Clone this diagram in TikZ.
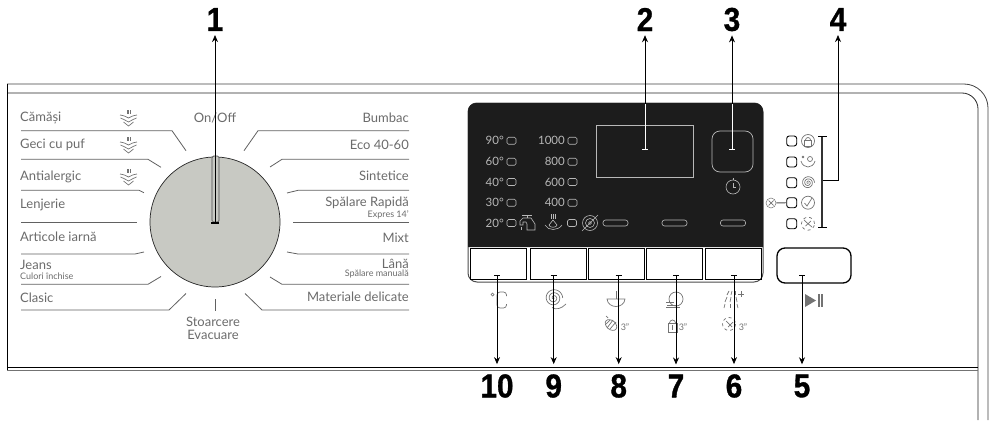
\documentclass[tikz,border=0pt]{standalone}
\usepackage{fontspec}
\setmainfont{Lato}
\newfontfamily\numfont[FakeStretch=0.9, BoldFeatures={FakeBold=1}]{Liberation Sans}
\usetikzlibrary{arrows.meta}
\newcommand{\labcol}{black!58}
\newcommand{\icocol}{black!55}
\definecolor{paneldark}{HTML}{1C1C1C}
\definecolor{dialgray}{HTML}{C8C9C3}
\definecolor{panellight}{HTML}{B8B8B8}
\tikzset{
  lab/.style={inner sep=0, text=\labcol, font=\fontsize{13}{14}\selectfont},
  sublab/.style={inner sep=0, text=\labcol, font=\fontsize{9}{10}\selectfont},
  rule/.style={draw=black!62, line width=0.8},
  ico/.style={draw=\icocol, line width=0.7},
  num/.style={inner sep=0, font=\numfont\bfseries\fontsize{33}{33}\selectfont},
  leader/.style={draw=black, line width=0.8},
  temp/.style={inner sep=0, anchor=east, text=panellight, font=\fontsize{11.5}{12}\selectfont},
  led/.style={draw=panellight, line width=0.6, rounded corners=1.5, inner sep=0, minimum width=9, minimum height=7},
  pill/.style={draw=panellight, line width=0.6, rounded corners=2.5, inner sep=0, minimum width=25, minimum height=6},
  btn/.style={draw=black, line width=0.8, inner sep=0, minimum width=56, minimum height=31},
  sqled/.style={draw=black, line width=0.9, rounded corners=2.5, inner sep=0, minimum width=10, minimum height=10},
  ring/.style={circle, draw=\icocol, line width=0.7, inner sep=0, minimum size=13}
}
\newcommand{\handicon}[1]{
  \begin{scope}[shift={(#1)}]
    \draw[ico] (-1.5,-4) -- (-1.5,-8);
    \draw[ico] (0,-4) -- (0,-8);
    \draw[ico] (1.5,-4) -- (1.5,-8);
    \draw[ico] (-8.5,-3) .. controls (-6,-3) and (-4,-2) .. (0,0) .. controls (4,-2) and (6,-3) .. (8.5,-3);
    \draw[ico] (-8,0) .. controls (-5,1) and (-4,2) .. (0,4) .. controls (4,2) and (5,1) .. (8,0);
    \draw[ico] (-5,4) .. controls (-3,5) and (-2,7) .. (0,8) .. controls (2,7) and (3,5) .. (5,4);
  \end{scope}
}
\newcommand{\spiralicon}[2]{
  \begin{scope}[shift={(#1)}]
    \draw[ico, domain=0:1080, samples=90, smooth, variable=\t] plot ({#2*\t/1080*cos(\t)}, {#2*\t/1080*sin(\t)});
  \end{scope}
}
\begin{document}
\begin{tikzpicture}[x=1pt, y=-1pt]
  \useasboundingbox (0,0) rectangle (992,420);

  \draw[draw=black!75, line width=0.8] (7,84) -- (964,84) arc[start angle=-90, end angle=0, radius=24] -- (988,420);
  \draw[draw=black!85, line width=0.8] (7,93) -- (962,93) arc[start angle=-90, end angle=0, radius=16] -- (978,420);
  \draw[draw=black, line width=0.9] (7,84) -- (7,371);
  \draw[draw=black, line width=0.8] (7,367) -- (978,367);
  \draw[draw=black!55, line width=0.8] (7,370) -- (978,370);

  \node[circle, draw=black!85, fill=dialgray, line width=0.7, inner sep=0, minimum size=130] (dial) at (215,222) {};
  \draw[draw=black!70, fill=dialgray, line width=0.7, rounded corners=1.5] (212,156) -- (212,222) -- (219,222) -- (219,156) -- cycle;

  \draw[rule] (21,130.7) -- (172,130.7) -- (186,150.7);
  \draw[rule] (21,159.3) -- (148,159.3) -- (161,167.3);
  \draw[rule] (21,190.3) -- (139,190.3) -- (144,192.7);
  \draw[rule] (21,222) -- (137,222);
  \draw[rule] (21,254) -- (135,254) -- (144,252);
  \draw[rule] (21,284.3) -- (148,284.3) -- (161,276.5);
  \draw[rule] (21,310) -- (169,310) -- (186,293.5);
  \draw[rule] (409,130.7) -- (258,130.7) -- (244,150.7);
  \draw[rule] (409,159.3) -- (282,159.3) -- (270,167);
  \draw[rule] (409,190.3) -- (298,190.3) -- (287,193);
  \draw[rule] (409,222) -- (293,222);
  \draw[rule] (409,254) -- (298,254) -- (287,252);
  \draw[rule] (409,284.3) -- (282,284.3) -- (270,277);
  \draw[rule] (409,310) -- (262,310) -- (245,293.5);
  \draw[rule] (215,299) -- (215,311);

  \node[lab, anchor=west] (l1) at (20,118) {Cămăși};
  \node[lab, anchor=west] (l2) at (20,145) {Geci cu puf};
  \node[lab, anchor=west] (l3) at (20,177) {Antialergic};
  \node[lab, anchor=west] (l4) at (20,205) {Lenjerie};
  \node[lab, anchor=west] (l5) at (20,237) {Articole iarnă};
  \node[lab, anchor=west] (l6) at (20,265) {Jeans};
  \node[sublab, anchor=west] (l6b) at (20,276.5) {Culori închise};
  \node[lab, anchor=west] (l7) at (20,298) {Clasic};
  \node[lab, anchor=east] (r1) at (409,118) {Bumbac};
  \node[lab, anchor=east] (r2) at (409,145) {Eco 40-60};
  \node[lab, anchor=east] (r3) at (409,176) {Sintetice};
  \node[lab, anchor=east] (r4) at (409,203) {Spălare Rapidă};
  \node[sublab, anchor=east] (r4b) at (409,214.5) {Expres 14’};
  \node[lab, anchor=east] (r5) at (409,238) {Mixt};
  \node[lab, anchor=east] (r6) at (409,264) {Lână};
  \node[sublab, anchor=east] (r6b) at (409,274) {Spălare manuală};
  \node[lab, anchor=east] (r7) at (409,297) {Materiale delicate};
  \node[lab] (onoff) at (215,118) {On/Off};
  \node[lab] (stoar) at (213,322) {Stoarcere};
  \node[lab] (evac) at (213,335) {Evacuare};

  \handicon{128.5,118}
  \handicon{128.5,145}
  \handicon{128.5,177}

  \draw[draw=black!70, line width=1, rounded corners=9] (468,103) rectangle (763,282);
  \fill[paneldark] (468,247) [rounded corners=8] -- (468,103) -- (763,103) [sharp corners] -- (763,247) -- cycle;

  \node[btn] (b10) at (498.5,263.5) {};
  \node[btn] (b9) at (558,263.5) {};
  \node[btn] (b8) at (616,263.5) {};
  \node[btn] (b7) at (674.5,263.5) {};
  \node[btn] (b6) at (733,263.5) {};
  \node[draw=black, line width=1.3, rounded corners=8, inner sep=0, minimum width=74, minimum height=35] (b5) at (814,265.5) {};

  \node[temp] (t90) at (504,140.7) {90°};
  \node[temp] (t60) at (504,161.7) {60°};
  \node[temp] (t40) at (504,182) {40°};
  \node[temp] (t30) at (504,202.7) {30°};
  \node[temp] (t20) at (504,223) {20°};
  \node[temp] (s1000) at (565,140.7) {1000};
  \node[temp] (s800) at (565,161.7) {800};
  \node[temp] (s600) at (565,182) {600};
  \node[temp] (s400) at (565,202.7) {400};
  \node[led] (lt90) at (511.5,140.7) {};
  \node[led] (lt60) at (511.5,161.7) {};
  \node[led] (lt40) at (511.5,182) {};
  \node[led] (lt30) at (511.5,202.7) {};
  \node[led] (lt20) at (511.5,223) {};
  \node[led] (ls1000) at (572.5,140.7) {};
  \node[led] (ls800) at (572.5,161.7) {};
  \node[led] (ls600) at (572.5,182) {};
  \node[led] (ls400) at (572.5,202.7) {};
  \node[led] (ldry) at (572,223) {};
  \node[pill] (p1) at (615.5,223) {};
  \node[pill] (p2) at (674.5,223) {};
  \node[pill] (p3) at (733,223) {};

  \draw[draw=panellight, line width=0.6] (522,215) -- (532,215);
  \draw[draw=panellight, line width=0.6] (527,215) -- (527,218);
  \draw[draw=panellight, line width=0.6] (520,225) -- (520,221) -- (523,218) -- (531,218) -- (535,224) -- (535,230) -- (527,230) -- (527,224) -- (526,222) -- (523,222) -- (523,225) -- cycle;
  \draw[draw=panellight, line width=0.6] (521.5,227) -- (521.5,230);
  \draw[draw=panellight, line width=0.6] (551,214) -- (551,219);
  \draw[draw=panellight, line width=0.6] (553,214) -- (553,219);
  \draw[draw=panellight, line width=0.6] (555,214) -- (555,219);
  \draw[draw=panellight, line width=0.6] (553,220) -- (549,225) .. controls (549,228) and (557,228) .. (557,225) -- cycle;
  \draw[draw=panellight, line width=0.6] (545,225) .. controls (548,231) and (558,231) .. (562,225);
  \draw[draw=panellight, line width=0.6] (590,223) circle[radius=7.5];
  \draw[draw=panellight, line width=0.6] (590,223) circle[radius=4.5];
  \draw[draw=panellight, line width=0.6] (590,223) circle[radius=1.5];
  \draw[draw=panellight, line width=0.6] (582,231) -- (598,215);

  \draw[draw=panellight, line width=0.7] (596,125) rectangle (693,177);
  \draw[draw=panellight, line width=0.7, rounded corners=8] (712,131) rectangle (753,172);
  \draw[draw=panellight, line width=0.6] (733,187) circle[radius=7];
  \draw[draw=panellight, line width=0.6] (733,183) -- (733,187) -- (736,187);
  \draw[draw=panellight, line width=0.6] (733,178) -- (733,180);

  \node[sqled] (q1) at (791.7,141) {};
  \node[sqled] (q2) at (791.7,162) {};
  \node[sqled] (q3) at (791.7,182.7) {};
  \node[sqled] (q4) at (791.7,202.7) {};
  \node[sqled] (q5) at (791.7,223.7) {};
  \node[ring] (i1) at (808,141) {};
  \node[ring, draw=none] (i2) at (808,162) {};
  \node[ring, draw=none] (i3) at (808,182.7) {};
  \node[ring] (i4) at (808,202.7) {};
  \node[ring, dashed] (i5) at (808,223.7) {};
  \node[circle, draw=\icocol, line width=0.5, inner sep=0, minimum size=10] (xc) at (771,203) {};
  \draw[draw=black!70, line width=0.9] (xc) -- (q4);
  \draw[ico] (768.5,200.5) -- (773.5,205.5);
  \draw[ico] (768.5,205.5) -- (773.5,200.5);
  \draw[ico] (804.5,140) rectangle (811.5,146);
  \draw[ico] (805.5,140) arc[start angle=180, end angle=360, radius=2.5];
  \draw[ico] (801,161) .. controls (803,169) and (813,169) .. (815,161);
  \draw[ico] (810,159) circle[radius=2.5];
  \draw[ico] (803,157) circle[radius=0.8];
  \spiralicon{808,182.7}{6.5}
  \draw[ico] (804.5,203) -- (807,206) -- (812,198);
  \draw[ico] (804,220) -- (808,223.7) -- (812,227);
  \draw[ico] (805.5,226) -- (811,221);

  \draw[ico] (492.5,294.5) circle[radius=1.5];
  \draw[ico, rounded corners=3] (506.5,296) -- (506.5,292) -- (497,292) -- (497,308) -- (506.5,308) -- (506.5,304);
  \spiralicon{553.7,298}{9}
  \draw[ico] (552,307.5) .. controls (556,310) and (561,309) .. (566,304);
  \draw[ico] (616,291) -- (616,299);
  \draw[ico] (607,299) -- (625,299) .. controls (624,309) and (608,309) .. (607,299) -- cycle;
  \draw[ico, rotate around={-40:(611,325)}] (611,325) ellipse[x radius=6.5, y radius=4.5];
  \draw[ico] (607,328) -- (613,320);
  \draw[ico] (610,329) -- (616,322);
  \draw[ico] (606,324) -- (610,320);
  \draw[ico] (606,316) -- (608,318);
  \node[sublab, text=\icocol] (d8) at (625,327) {3"};
  \draw[ico] (668,323) rectangle (677,332);
  \draw[ico] (669.5,323) arc[start angle=180, end angle=360, radius=3];
  \draw[ico] (672.5,325) -- (672.5,330);
  \node[sublab, text=\icocol] (d7) at (683,327) {3"};
  \draw[ico] (676,299) circle[radius=7];
  \draw[ico] (666,302) -- (674,302);
  \draw[ico] (667,305) -- (676,305);
  \draw[ico] (666,307.5) -- (680,307.5);
  \draw[ico] (729,291) -- (727,295);
  \draw[ico] (732,291) -- (731,295);
  \draw[ico] (735,291) -- (735,295);
  \draw[ico] (727,297) -- (725,302);
  \draw[ico] (731,297) -- (730,302);
  \draw[ico] (736,297) -- (737,302);
  \draw[ico] (725,304) -- (724,308);
  \draw[ico] (730,304) -- (730,308);
  \draw[ico] (737,304) -- (738,308);
  \draw[ico] (738,294) -- (744,294);
  \draw[ico] (741,291) -- (741,297);
  \draw[ico, dashed] (729,324) circle[radius=6.5];
  \draw[ico] (726,321) -- (732,327);
  \draw[ico] (728,327) -- (733,322);
  \node[sublab, text=\icocol] (d6) at (743,327) {3"};
  \fill[black!55] (805,294) -- (816,300.5) -- (805,307) -- cycle;
  \fill[black!55] (817.5,294) rectangle (819.5,307);
  \fill[black!55] (821,294) rectangle (823,307);

  \node[num] (n1) at (215,19.5) {1};
  \node[num] (n2) at (645,19.5) {2};
  \node[num] (n3) at (732,19.5) {3};
  \node[num] (n4) at (838,19.5) {4};
  \node[num] (n10) at (497,386) {10};
  \node[num] (n9) at (553.7,386) {9};
  \node[num] (n8) at (618.7,386) {8};
  \node[num] (n7) at (676,386) {7};
  \node[num] (n6) at (734,386) {6};
  \node[num] (n5) at (802,386) {5};

  \coordinate (k1) at (215,223);
  \coordinate (k2) at (645,149.3);
  \coordinate (k3) at (732,149.3);
  \coordinate (k4) at (822,180.7);
  \coordinate (k10) at (497,275);
  \coordinate (k9) at (553.7,275);
  \coordinate (k8) at (618.7,275);
  \coordinate (k7) at (676,275);
  \coordinate (k6) at (734,275);
  \coordinate (k5) at (802,275);
  \coordinate (top2) at (645,104);
  \coordinate (top3) at (732,104);

  \draw[leader, {Stealth[length=7, width=6]}-, shorten <=4] (n1) -- (k1);
  \draw[leader, {Stealth[length=7, width=6]}-, shorten <=4] (n2) -- (top2);
  \draw[leader, {Stealth[length=7, width=6]}-, shorten <=4] (n3) -- (top3);
  \draw[leader, {Stealth[length=7, width=6]}-, shorten <=4] (n4) |- (k4);
  \draw[draw=white, line width=0.8] (top2) -- (k2);
  \draw[draw=white, line width=0.8] (top3) -- (k3);
  \draw[draw=white, line width=0.9] (k2) +(-3,0) -- +(3,0);
  \draw[draw=white, line width=0.9] (k3) +(-3,0) -- +(3,0);
  \draw[draw=black, line width=1.6] (k1) +(-4,0) -- +(4,0);

  \draw[draw=black!80, line width=1.2] (822,136) -- (822,227);
  \draw[draw=black, line width=1] (818,136) -- (827,136);
  \draw[draw=black, line width=1] (818,227) -- (827,227);

  \draw[leader, -{Stealth[length=7, width=6]}, shorten >=10] (k10) -- (n10);
  \draw[leader, -{Stealth[length=7, width=6]}, shorten >=10] (k9) -- (n9);
  \draw[leader, -{Stealth[length=7, width=6]}, shorten >=10] (k8) -- (n8);
  \draw[leader, -{Stealth[length=7, width=6]}, shorten >=10] (k7) -- (n7);
  \draw[leader, -{Stealth[length=7, width=6]}, shorten >=10] (k6) -- (n6);
  \draw[leader, -{Stealth[length=7, width=6]}, shorten >=10] (k5) -- (n5);
  \draw[leader] (k10) +(-3,0) -- +(3,0);
  \draw[leader] (k9) +(-3,0) -- +(3,0);
  \draw[leader] (k8) +(-3,0) -- +(3,0);
  \draw[leader] (k7) +(-3,0) -- +(3,0);
  \draw[leader] (k6) +(-3,0) -- +(3,0);
  \draw[leader] (k5) +(-3,0) -- +(3,0);
\end{tikzpicture}
\end{document}
